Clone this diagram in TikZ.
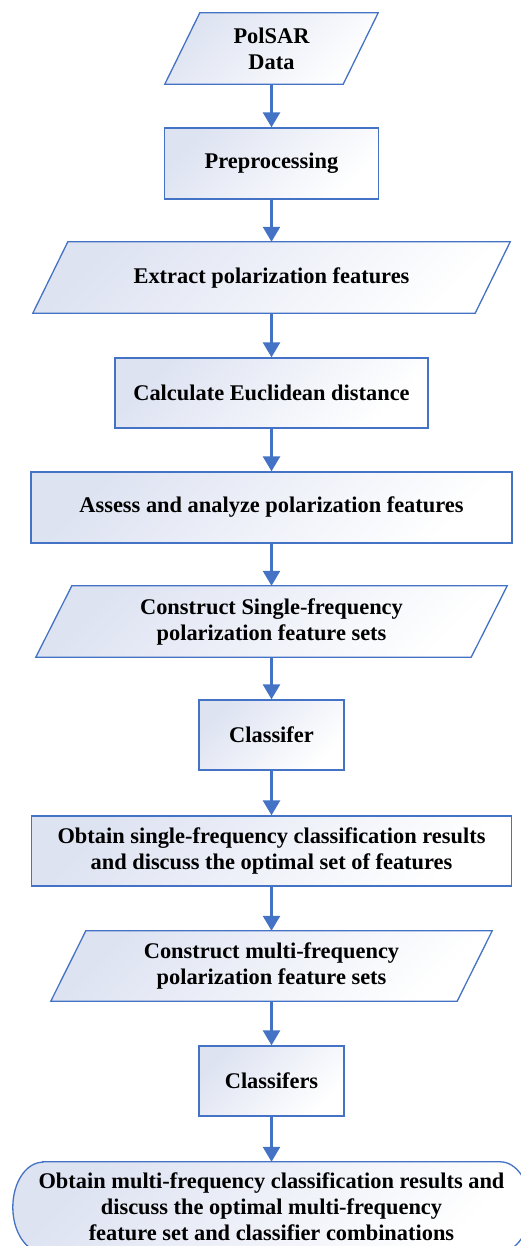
\documentclass[tikz,border=0pt]{standalone}
\usepackage{fontspec}
\setmainfont{Liberation Serif}
\usetikzlibrary{arrows.meta,backgrounds}
\definecolor{bcol}{HTML}{4472C4}
\definecolor{acol}{HTML}{4472C4}
\definecolor{bgc}{HTML}{DEE3F2}
\tikzset{
  boxfill/.style={draw=bcol, line width=1.3pt, top color=bgc, bottom color=white, shading angle=45},
  lbl/.style={font=\bfseries\fontsize{22.4}{26}\selectfont, align=center, inner sep=0pt},
  procbox/.style={boxfill, rectangle, lbl},
  ghost/.style={rectangle, lbl},
  flow/.style={draw=acol, line width=2.6pt, -{Triangle[width=17pt,length=15pt]}},
}
\newcommand\myparashape[2]{%
  \begin{pgfonlayer}{background}
    \path[boxfill] (#1.south west) -- ([xshift=-#2pt]#1.south east) -- (#1.north east) -- ([xshift=#2pt]#1.north west) -- cycle;
  \end{pgfonlayer}}
\begin{document}
\begin{tikzpicture}[x=1pt,y=1pt]
\useasboundingbox (0,0) rectangle (520,-1246);

\node[ghost, minimum width=213pt, minimum height=71pt] (n1) at (271.5,-48.5) {PolSAR\\Data};
\myparashape{n1}{35}
\node[procbox, minimum width=214pt, minimum height=71pt] (n2) at (271.5,-163.5) {Preprocessing};
\node[ghost, minimum width=477pt, minimum height=71pt] (n3) at (271.5,-277.5) {Extract polarization features};
\myparashape{n3}{35}
\node[procbox, minimum width=313pt, minimum height=70pt] (n4) at (271.5,-393) {Calculate Euclidean distance};
\node[procbox, minimum width=481pt, minimum height=71pt] (n5) at (271.5,-507.5) {Assess and analyze polarization features};
\node[ghost, minimum width=471pt, minimum height=71pt] (n6) at (271.5,-621.5) {Construct Single-frequency\\polarization feature sets};
\myparashape{n6}{36}
\node[procbox, minimum width=145pt, minimum height=70pt] (n7) at (271.5,-735) {Classifer};
\node[procbox, minimum width=480pt, minimum height=70pt] (n8) at (271.5,-851) {Obtain single-frequency classification results\\and discuss the optimal set of features};
\node[ghost, minimum width=441pt, minimum height=70pt] (n9) at (271.5,-966) {Construct multi-frequency\\polarization feature sets};
\myparashape{n9}{35}
\node[procbox, minimum width=145pt, minimum height=70pt] (n10) at (271.5,-1081) {Classifers};
\node[ghost, minimum width=517pt, minimum height=90pt] (n11) at (271.5,-1207) {Obtain multi-frequency classification results and\\discuss the optimal multi-frequency\\feature set and classifier combinations};
\begin{pgfonlayer}{background}
  \path[boxfill] ([xshift=30pt]n11.north west) -- ([xshift=-30pt]n11.north east)
    arc[start angle=90, end angle=-90, x radius=30pt, y radius=45pt]
    -- ([xshift=30pt]n11.south west)
    arc[start angle=270, end angle=90, x radius=30pt, y radius=45pt] -- cycle;
\end{pgfonlayer}

\draw[flow] (n1.south) -- (n2.north);
\draw[flow] (n2.south) -- (n3.north);
\draw[flow] (n3.south) -- (n4.north);
\draw[flow] (n4.south) -- (n5.north);
\draw[flow] (n5.south) -- (n6.north);
\draw[flow] (n6.south) -- (n7.north);
\draw[flow] (n7.south) -- (n8.north);
\draw[flow] (n8.south) -- (n9.north);
\draw[flow] (n9.south) -- (n10.north);
\draw[flow] (n10.south) -- (n11.north);
\end{tikzpicture}
\end{document}
